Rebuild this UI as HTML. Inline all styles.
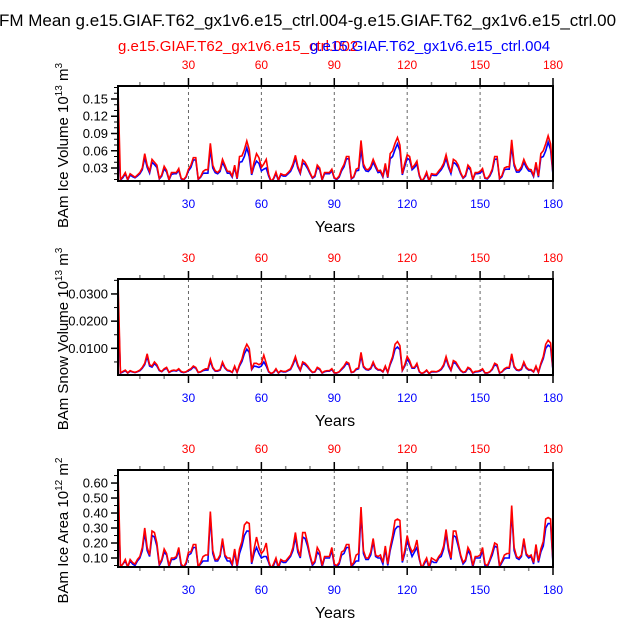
<!DOCTYPE html>
<html><head><meta charset="utf-8"><style>
html,body{margin:0;padding:0;background:#fff;}
svg{display:block;font-family:"Liberation Sans",sans-serif;}
</style></head><body>
<svg id="chart" width="618" height="619" viewBox="0 0 618 619" xmlns="http://www.w3.org/2000/svg">
<text x="-1" y="26" font-size="17" fill="#000">FM Mean g.e15.GIAF.T62_gx1v6.e15_ctrl.004-g.e15.GIAF.T62_gx1v6.e15_ctrl.00</text>
<text x="118" y="51" font-size="15" fill="#ff0000">g.e15.GIAF.T62_gx1v6.e15_ctrl.002</text>
<text x="310" y="51" font-size="15" fill="#0000ff">g.e15.GIAF.T62_gx1v6.e15_ctrl.004</text>
<g id="plots"></g>
</svg>
<script>
const years = Array.from({length:180},(_,i)=>i+1);
const xTicks = [30,60,90,120,150,180];
// Ice volume (units 0.001 x 10^13 m^3)
const volRed = [170,10,15,22,10,20,17,14,18,22,30,55,35,24,45,40,35,12,18,33,26,10,22,22,22,29,12,10,15,28,35,48,48,11,15,24,27,27,73,35,25,22,27,45,35,24,24,16,35,12,50,51,62,77,62,20,40,55,48,31,37,45,19,7,12,23,9,20,18,18,22,27,37,52,33,22,44,40,32,22,13,17,35,30,10,22,22,22,28,13,11,16,28,36,50,50,12,15,28,30,78,37,28,27,33,45,35,25,26,16,38,14,55,60,73,83,70,20,38,53,50,30,35,42,18,7,13,23,8,20,19,19,25,30,38,53,35,22,45,42,35,22,13,18,35,30,10,22,22,24,29,13,12,18,28,50,50,12,17,30,32,32,79,38,26,26,32,45,35,28,27,17,40,16,55,60,72,86,72,20];
const volBlue = [80,9,13,20,9,18,15,13,16,20,27,48,31,21,40,36,31,11,16,29,23,9,19,20,20,26,11,9,14,25,31,44,44,10,14,21,21,21,63,30,22,20,24,40,31,21,21,14,31,11,40,41,50,65,50,18,33,42,38,25,28,30,16,6,11,20,8,18,16,16,20,24,33,47,30,20,39,36,29,20,12,15,31,27,9,20,20,20,25,12,10,14,25,32,46,46,11,14,25,26,62,32,25,24,29,40,31,22,23,14,33,13,46,50,62,72,60,18,33,47,44,27,31,37,16,6,12,20,7,18,17,17,22,27,34,47,31,20,40,37,31,20,12,16,31,27,9,20,20,21,26,12,11,16,25,45,46,11,15,27,28,28,68,34,23,23,28,40,31,25,24,15,35,14,48,50,60,75,62,18];
// Snow volume (units 0.0001 x 10^13 m^3)
const snowRed = [350,10,15,20,10,18,14,12,15,20,30,45,80,40,35,50,40,20,15,25,30,12,18,20,18,25,15,12,14,20,25,35,30,12,14,20,25,25,60,30,18,18,22,50,30,20,18,12,35,12,40,60,95,115,100,25,45,45,40,45,75,45,15,8,12,25,10,18,15,15,20,25,45,70,40,20,50,45,35,22,12,14,30,25,10,16,18,18,25,10,10,14,25,35,50,45,12,14,25,28,85,35,25,22,28,50,30,22,22,14,35,12,45,70,115,125,110,20,40,70,55,30,30,45,15,8,12,20,8,15,15,14,18,25,40,70,40,20,55,50,35,20,12,15,30,25,10,15,16,18,25,10,10,14,25,45,40,10,14,25,30,30,80,35,22,20,25,50,30,22,22,14,35,12,45,70,115,130,120,20];
const snowBlue = [280,9,13,18,9,16,13,11,14,18,27,40,70,35,31,44,35,18,14,22,27,11,16,18,16,22,13,11,13,18,22,31,27,11,13,18,20,20,52,27,16,16,20,44,27,18,16,11,31,11,35,52,80,97,85,22,35,33,30,35,50,35,13,7,11,22,9,16,13,13,18,22,40,62,35,18,44,40,31,20,11,13,27,22,9,14,16,16,22,9,9,13,22,31,44,40,11,13,22,25,72,31,22,20,25,44,27,20,20,13,31,11,40,62,97,105,95,18,35,60,47,27,27,40,13,7,11,18,7,13,13,13,16,22,35,62,35,18,48,44,31,18,11,13,27,22,9,13,14,16,22,9,9,13,22,40,35,9,13,22,27,27,70,31,20,18,22,44,27,20,20,13,31,11,40,62,100,112,105,18];
// Ice area (units 0.01 x 10^12 m^2)
const areaRed = [68,4,6,9,4,9,7,6,9,11,17,30,17,12,28,27,20,6,9,16,13,5,10,10,11,17,6,4,7,14,14,19,19,4,7,11,12,12,41,15,9,9,12,23,12,10,10,6,16,5,16,21,32,34,33,7,16,24,17,13,15,20,8,3,6,10,4,9,8,8,10,12,17,27,16,11,27,27,20,12,6,8,17,14,5,11,11,11,17,6,5,7,14,15,19,19,5,7,12,13,44,15,10,10,14,23,12,11,12,7,18,6,17,25,35,36,35,8,15,25,18,14,16,22,10,3,7,10,4,10,9,8,11,13,18,29,17,10,28,28,20,12,7,9,17,14,5,11,11,12,17,6,5,9,14,20,19,5,8,12,13,13,45,17,11,10,12,23,13,11,12,7,19,8,16,21,36,37,36,7];
const areaBlue = [54,4,6,8,4,8,6,5,8,10,15,27,15,11,25,24,18,5,8,14,12,4,9,9,10,15,5,4,6,12,13,17,17,4,6,8,8,8,38,13,8,8,11,21,11,8,8,5,14,4,13,18,25,28,28,6,13,17,13,10,11,11,7,2,5,9,3,8,7,7,9,11,15,24,14,10,24,23,18,11,5,7,14,12,4,10,10,10,15,5,4,6,12,13,17,17,4,6,8,8,40,13,9,9,12,21,11,10,10,6,16,5,15,22,29,31,31,7,13,22,16,11,14,17,9,3,6,9,3,8,7,7,10,11,16,26,15,9,25,24,18,11,6,8,15,12,4,10,10,10,15,5,4,8,12,18,17,4,7,10,10,10,41,15,10,9,11,21,12,10,11,6,17,7,14,18,30,33,33,6];

const panels = [
  {name:'ice-volume', top:86, bottom:181, ymin:0.0074, ymax:0.1726, red:volRed, blue:volBlue, unit:0.001,
   ticks:[0.03,0.06,0.09,0.12,0.15], fmt:v=>v.toFixed(2), minor:0.01, title:'BAm Ice Volume 10', sup:'13', tail:' m', sup2:'3'},
  {name:'snow-volume', top:279, bottom:375, ymin:0.0002, ymax:0.0355, red:snowRed, blue:snowBlue, unit:0.0001,
   ticks:[0.01,0.02,0.03], fmt:v=>v.toFixed(4), minor:0.005, title:'BAm Snow Volume 10', sup:'13', tail:' m', sup2:'3'},
  {name:'ice-area', top:470, bottom:567, ymin:0.04, ymax:0.687, red:areaRed, blue:areaBlue, unit:0.01,
   ticks:[0.1,0.2,0.3,0.4,0.5,0.6], fmt:v=>v.toFixed(2), minor:0.05, title:'BAm Ice Area 10', sup:'12', tail:' m', sup2:'2'}
];
const L=118, R=553;
const NS='http://www.w3.org/2000/svg';
const g=document.getElementById('plots');
function mk(tag, attrs, parent){const e=document.createElementNS(NS,tag);for(const k in attrs)e.setAttribute(k,attrs[k]);(parent||g).appendChild(e);return e;}
function xs(v){return L+(v-1)/(179)*(R-L);}

panels.forEach(p=>{
  const ys=v=>p.bottom-(v-p.ymin)/(p.ymax-p.ymin)*(p.bottom-p.top);
  const pg=mk('g',{});
  
  
  xTicks.slice(0,5).forEach(t=>{
    const l=mk('line',{x1:xs(t),x2:xs(t),y1:p.top,y2:p.bottom,stroke:'#666','stroke-width':1,'stroke-dasharray':'3,3'},pg);
    
    
  });
  for(let t=10;t<=180;t+=10){
    const major=t%30===0;
    const len=major?8:4;
    const col=major?'#000':'#888';
    mk('line',{x1:xs(t),x2:xs(t),y1:p.top,y2:p.top-len,stroke:col,'stroke-width':1.5},pg);
    mk('line',{x1:xs(t),x2:xs(t),y1:p.bottom,y2:p.bottom+len,stroke:col,'stroke-width':1.5},pg);
  }
  xTicks.forEach(t=>{
    const a=mk('text',{x:xs(t),y:p.top-17,'text-anchor':'middle','font-size':12,fill:'#ff0000'},pg);
    a.textContent=t;
    
    
    const b=mk('text',{x:xs(t),y:p.bottom+27,'text-anchor':'middle','font-size':12,fill:'#0000ff'},pg);
    b.textContent=t;
    
    
  });
  for(let v=Math.ceil(p.ymin/p.minor)*p.minor; v<=p.ymax; v+=p.minor){
    mk('line',{x1:L,x2:L-4,y1:ys(v),y2:ys(v),stroke:'#000','stroke-width':1},pg);
  }
  p.ticks.forEach(v=>{
    mk('line',{x1:L,x2:L-7,y1:ys(v),y2:ys(v),stroke:'#000','stroke-width':1.5},pg);
    const t=mk('text',{x:L-10,y:ys(v)+4.5,'text-anchor':'end','font-size':13,fill:'#000'},pg);
    t.textContent=p.fmt(v);
    
    
  });
  const cid='clip-'+p.name;
  const cp=mk('clipPath',{id:cid},pg);
  mk('rect',{x:L,y:p.top,width:R-L,height:p.bottom-p.top},cp);
  [['blue',p.blue,'#0000ff'],['red',p.red,'#ff0000']].forEach(([nm,arr,col])=>{
    const d=arr.map((v,i)=>(i?'L':'M')+xs(years[i]).toFixed(2)+','+ys(v*p.unit).toFixed(2)).join('');
    const path=mk('path',{d:d,fill:'none',stroke:col,'stroke-width':1.6,'clip-path':'url(#'+cid+')'},pg);
    
    
  });
  const box=mk('rect',{x:L,y:p.top,width:R-L,height:p.bottom-p.top,fill:'none',stroke:'#000','stroke-width':2},pg);
  
  
  const xt=mk('text',{x:335,y:p.bottom+51,'text-anchor':'middle','font-size':16,fill:'#000'},pg);
  xt.textContent='Years';
  
  
  const cy=(p.top+p.bottom)/2+12;
  const yt=mk('text',{x:0,y:0,'text-anchor':'middle','font-size':15,fill:'#000',transform:'translate(68,'+cy+') rotate(-90)'},pg);
  
  
  yt.appendChild(document.createTextNode(p.title));
  const s1=mk('tspan',{dy:-6,'font-size':10},yt); s1.textContent=p.sup;
  const t2=mk('tspan',{dy:6},yt); t2.textContent=p.tail;
  const s2=mk('tspan',{dy:-6,'font-size':10},yt); s2.textContent=p.sup2;
});
</script>
</body></html>
